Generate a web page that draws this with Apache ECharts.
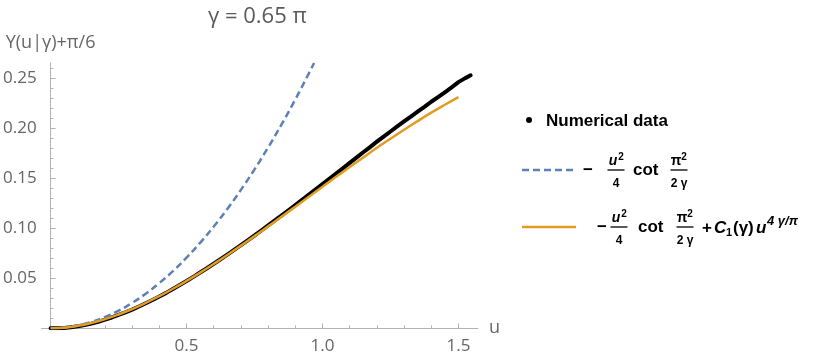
<!DOCTYPE html>
<html>
<head>
<meta charset="utf-8">
<script src="https://cdn.jsdelivr.net/npm/echarts@6/dist/echarts.min.js"></script>
<style>html,body{margin:0;padding:0;background:#fff}#c{width:830px;height:360px}</style>
</head>
<body>
<div id="c"></div>
<script>
// ---- data ----
const titleText = 'γ = 0.65 π';
const yAxisName = 'Y(u|γ)+π/6';
const xAxisName = 'u';
const xTickLabels = [0.5, 1.0, 1.5];
const xMinorTicks = [0.1, 0.2, 0.3, 0.4, 0.6, 0.7, 0.8, 0.9, 1.1, 1.2, 1.3, 1.4];
const yTickLabels = [0.05, 0.10, 0.15, 0.20, 0.25];
const yMinorTicks = [0.01,0.02,0.03,0.04,0.06,0.07,0.08,0.09,0.11,0.12,0.13,0.14,0.16,0.17,0.18,0.19,0.21,0.22,0.23,0.24,0.26];

// Numerical data (black)
const uNum = [0,0.025,0.05,0.075,0.1,0.125,0.15,0.175,0.2,0.225,0.25,0.275,0.3,0.325,0.35,0.375,0.4,0.425,0.45,0.475,0.5,0.525,0.55,0.575,0.6,0.625,0.65,0.675,0.7,0.725,0.75,0.775,0.8,0.825,0.85,0.875,0.9,0.925,0.95,0.975,1.0,1.025,1.05,1.075,1.1,1.125,1.15,1.175,1.2,1.225,1.25,1.275,1.3,1.325,1.35,1.375,1.4,1.425,1.45,1.475,1.5,1.525,1.545];
const yNum = [0.0000,0.0001,0.0004,0.0010,0.0020,0.0032,0.0047,0.0065,0.0086,0.0108,0.0133,0.0159,0.0187,0.0218,0.0250,0.0283,0.0318,0.0354,0.0393,0.0432,0.0472,0.0514,0.0557,0.0600,0.0645,0.0690,0.0736,0.0783,0.0830,0.0879,0.0927,0.0977,0.1027,0.1077,0.1128,0.1179,0.1232,0.1283,0.1336,0.1388,0.1440,0.1492,0.1546,0.1598,0.1652,0.1704,0.1758,0.1810,0.1864,0.1915,0.1966,0.2016,0.2066,0.2115,0.2164,0.2212,0.2263,0.2309,0.2357,0.2407,0.2459,0.2499,0.2527];

// -u^2/4 cot(pi^2/(2 gamma))  (blue dashed)
const uBlue = [0,0.05,0.1,0.15,0.2,0.25,0.3,0.35,0.4,0.45,0.5,0.55,0.6,0.65,0.7,0.75,0.8,0.85,0.9,0.95,0.969];
const yBlue = [0,0.0007,0.0028,0.0063,0.0113,0.0176,0.0254,0.0346,0.0452,0.0571,0.0706,0.0854,0.1016,0.1192,0.1383,0.1587,0.1806,0.2039,0.2286,0.2547,0.2650];

// with C1 correction (orange)
const uOrange = [0,0.05,0.1,0.15,0.2,0.25,0.3,0.35,0.4,0.45,0.5,0.55,0.6,0.65,0.7,0.75,0.8,0.85,0.9,0.95,1.0,1.05,1.1,1.15,1.2,1.25,1.3,1.35,1.4,1.45,1.5];
const yOrange = [0,0.00065,0.00247,0.00533,0.00914,0.01381,0.01925,0.02538,0.03215,0.03949,0.04733,0.05562,0.06429,0.07326,0.0826,0.09206,0.1018,0.1116,0.1215,0.1315,0.1414,0.1513,0.1611,0.1707,0.1803,0.1894,0.1984,0.2070,0.2154,0.2233,0.2309];

const pairs = (xs, ys) => xs.map((x, i) => [x, ys[i]]);

const BLUE = '#5e81b5', ORANGE = '#e19c24', AXIS = '#b3b3b3', LABEL = '#666666';
const tickFont = '"Open Sans", "Liberation Sans", sans-serif';
const legFont = '"Liberation Sans", Arial, sans-serif';

const xBase = {
  type: 'value', min: -0.033, max: 1.572, gridIndex: 0, position: 'bottom',
  splitLine: { show: false }
};
const yBase = {
  type: 'value', min: 0, max: 0.265, gridIndex: 0, position: 'left',
  splitLine: { show: false }
};

const chart = echarts.init(document.getElementById('c'), null, { renderer: 'canvas' });

function T(x, y, text, opt) {
  return { type: 'text', x: x, y: y, style: Object.assign({
    text: text, fill: '#000', font: 'bold 17px ' + legFont, textVerticalAlign: 'middle', textAlign: 'left'
  }, opt || {}) };
}
function bar(x1, x2, y) {
  return { type: 'line', shape: { x1: x1, y1: y, x2: x2, y2: y }, style: { stroke: '#000', lineWidth: 1.3 } };
}
function frac(cx, yBar, base, baseItalic, den) {
  return [
    T(cx - 3, yBar - 9, base, { textAlign: 'center', font: (baseItalic ? 'italic ' : '') + 'bold 14px ' + legFont }),
    T(cx + 5, yBar - 13, '2', { textAlign: 'center', font: 'bold 10px ' + legFont }),
    bar(cx - 8.5, cx + 8.5, yBar),
    T(cx, yBar + 14, den, { textAlign: 'center', font: 'bold 12px ' + legFont })
  ];
}

const graphics = [
  // Legend 1
  { type: 'circle', shape: { cx: 529, cy: 120, r: 3 }, style: { fill: '#000' } },
  T(546, 121, 'Numerical data'),
  // Legend 2
  { type: 'line', shape: { x1: 522, y1: 170, x2: 574, y2: 170 }, style: { stroke: BLUE, lineWidth: 2.5, lineDash: [7, 4] } },
  T(583, 170, '−'),
  ...frac(616, 170, 'u', true, '4'),
  T(633, 170, 'cot'),
  ...frac(679, 170, 'π', false, '2 γ'),
  // Legend 3
  { type: 'line', shape: { x1: 522, y1: 227, x2: 576, y2: 227 }, style: { stroke: ORANGE, lineWidth: 2.5 } },
  T(597, 227, '−'),
  ...frac(619, 227, 'u', true, '4'),
  T(638, 227, 'cot'),
  ...frac(685, 227, 'π', false, '2 γ'),
  T(702, 228, '+'),
  T(714, 228, 'C', { font: 'italic bold 17px ' + legFont }),
  T(726, 233, '1', { font: 'bold 11px ' + legFont }),
  T(733, 228, '(γ)', { font: 'bold 17px ' + legFont }),
  T(756, 228, 'u', { font: 'italic bold 17px ' + legFont }),
  T(767, 221, '4 γ/π', { font: 'italic bold 13px ' + legFont })
];

chart.setOption({
  animation: false,
  backgroundColor: '#fff',
  title: {
    text: titleText, left: 203, top: 1,
    textStyle: { fontFamily: tickFont, fontSize: 22, fontWeight: 'normal', color: '#5a5a5a' }
  },
  grid: [{ left: 39.3, right: 352, top: 63, bottom: 31.7 }],
  xAxis: [
    Object.assign({}, xBase, {
      name: xAxisName, nameLocation: 'end', nameGap: 11,
      nameTextStyle: { fontFamily: tickFont, fontSize: 18, color: LABEL, verticalAlign: 'middle', align: 'left' },
      axisLine: { show: true, onZero: false, lineStyle: { color: AXIS, width: 1 } },
      axisTick: { show: true, inside: true, length: 5, customValues: xTickLabels, lineStyle: { color: AXIS } },
      axisLabel: { show: true, customValues: xTickLabels, margin: 9, fontFamily: tickFont, fontSize: 17, color: LABEL,
        formatter: v => Number(v).toFixed(1) }
    }),
    Object.assign({}, xBase, {
      axisLine: { show: false, onZero: false },
      axisTick: { show: true, inside: true, length: 3, customValues: xMinorTicks, lineStyle: { color: AXIS } },
      axisLabel: { show: false }
    })
  ],
  yAxis: [
    Object.assign({}, yBase, {
      name: yAxisName, nameLocation: 'end', nameGap: 20,
      nameTextStyle: { fontFamily: tickFont, fontSize: 18, color: LABEL, verticalAlign: 'middle', align: 'center' },
      axisLine: { show: true, onZero: true, lineStyle: { color: AXIS, width: 1 } },
      axisTick: { show: true, inside: true, length: 5, customValues: yTickLabels, lineStyle: { color: AXIS } },
      axisLabel: { show: true, customValues: yTickLabels, margin: 5, fontFamily: tickFont, fontSize: 17, color: LABEL,
        formatter: v => Number(v).toFixed(2) }
    }),
    Object.assign({}, yBase, {
      axisLine: { show: false, onZero: true },
      axisTick: { show: true, inside: true, length: 3, customValues: yMinorTicks, lineStyle: { color: AXIS } },
      axisLabel: { show: false }
    })
  ],
  series: [
    {
      name: 'Numerical data', type: 'line', xAxisIndex: 0, yAxisIndex: 0,
      data: pairs(uNum, yNum), showSymbol: false, symbol: 'none',
      lineStyle: { color: '#000', width: 4, join: 'round', cap: 'round' }, z: 2
    },
    {
      name: 'leading', type: 'line', xAxisIndex: 0, yAxisIndex: 0,
      data: pairs(uBlue, yBlue), showSymbol: false, symbol: 'none', smooth: true,
      lineStyle: { color: BLUE, width: 2.5, type: [7, 4] }, z: 3
    },
    {
      name: 'corrected', type: 'line', xAxisIndex: 0, yAxisIndex: 0,
      data: pairs(uOrange, yOrange), showSymbol: false, symbol: 'none', smooth: true,
      lineStyle: { color: ORANGE, width: 2.5 }, z: 4
    }
  ],
  graphic: graphics
});
</script>
</body>
</html>
